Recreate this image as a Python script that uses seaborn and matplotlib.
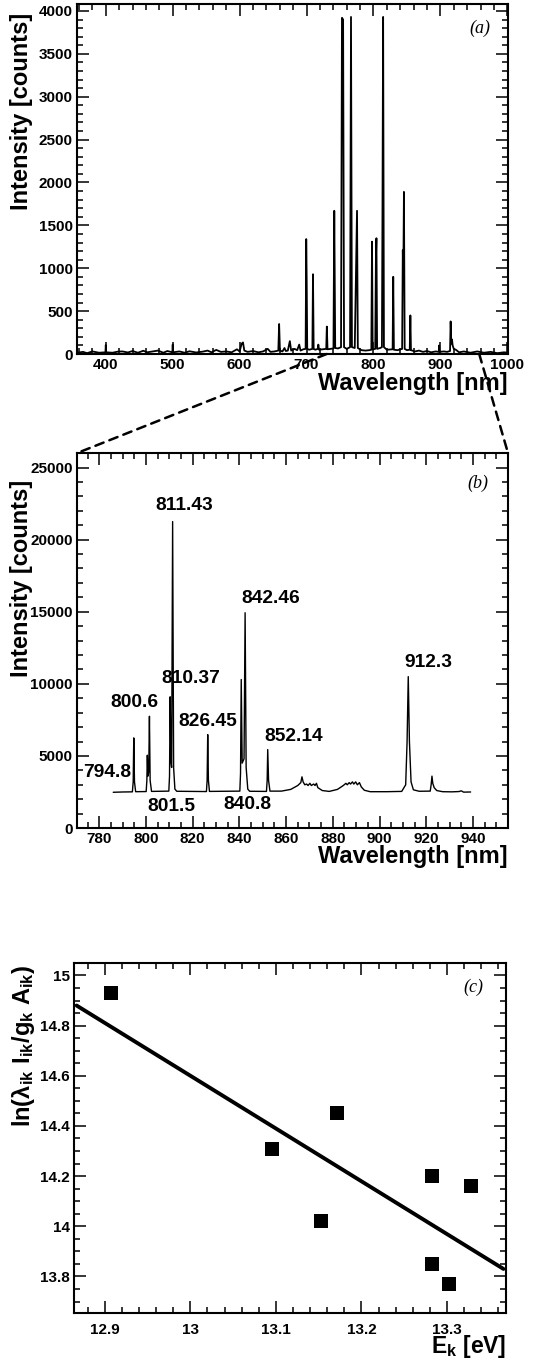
import matplotlib
matplotlib.use('Agg')
import matplotlib.pyplot as plt
from matplotlib.ticker import MultipleLocator, FormatStrFormatter
from matplotlib.patches import ConnectionPatch
import seaborn as sns

# Spectre complet (a) : sommets de la courbe
wl_a = [357, 366, 372, 380, 390, 399.5, 400, 400.5, 410, 418, 425, 433, 440, 448, 456, 462,
        470, 478, 486, 492, 499.5, 500, 500.5, 510, 518, 525, 535, 545, 552, 558, 565, 572,
        580, 588, 596, 600, 603, 605, 607, 612, 620, 628, 635, 642, 646, 652, 657.8, 659,
        660.2, 664, 667, 669, 672, 675, 677, 682, 686, 689, 691, 695, 698.6, 699.5, 700.2,
        701, 704, 708.7, 709.6, 710.6, 713, 716.8, 717.6, 718.6, 724, 729.4, 730.3, 731.3,
        736, 740.2, 741.4, 742.8, 747, 751.5, 752.9, 754.6, 756.0, 760, 765, 766.4, 767.8,
        772, 775.0, 775.4, 776.6, 782, 788, 794, 796.8, 797.8, 798.8, 802.6, 803.6, 804.4,
        805.4, 810, 812.6, 813.4, 814.4, 815.6, 820, 828.6, 829.5, 830.5, 836, 842.8, 843.8,
        844.6, 845.5, 846.6, 850, 854.2, 855.1, 856.0, 862, 868, 874, 880, 886, 893, 897.6,
        898.2, 898.8, 905, 910, 914.4, 915.3, 916.3, 917.3, 918.3, 920, 923, 928, 935, 945,
        955, 965, 975, 985, 995, 1001]
int_a = [15, 25, 10, 30, 15, 20, 105, 20, 15, 28, 30, 18, 35, 15, 38, 20,
         30, 40, 15, 35, 20, 110, 20, 30, 15, 32, 18, 28, 40, 20, 48, 25,
         30, 20, 55, 30, 120, 135, 40, 25, 35, 20, 30, 60, 25, 30, 40, 350,
         40, 30, 70, 35, 40, 150, 40, 60, 45, 110, 40, 55, 60, 1340, 850,
         60, 50, 60, 930, 60, 50, 60, 110, 50, 55, 60, 320, 55,
         60, 65, 1670, 70, 65, 80, 3920, 3900, 80, 60, 80, 3930, 80,
         70, 1500, 1670, 70, 45, 40, 45, 50, 1310, 55, 60, 1100, 1350,
         60, 70, 80, 1600, 3930, 80, 50, 55, 900, 50, 45, 60, 1210,
         900, 1890, 60, 45, 50, 450, 45, 30, 40, 25, 35, 20, 30, 25,
         100, 25, 30, 25, 35, 380, 120, 170, 100, 60, 50, 20, 30, 15,
         30, 15, 25, 10, 20, 15]

# Zoom 770-955 nm (b)
wl_b = [786, 790, 794.2, 794.55, 794.8, 795.1, 795.6, 800.1, 800.4, 800.6, 800.85, 801.2,
        801.5, 801.8, 802.4, 809.8, 810.1, 810.37, 810.7, 811.0, 811.43, 811.85, 812.4,
        813.2, 825.9, 826.2, 826.45, 826.75, 827.2, 840.2, 840.5, 840.8, 841.2, 842.0,
        842.46, 842.9, 843.6, 844.4, 851.6, 851.9, 852.14, 852.5, 853.1, 858, 862, 865,
        866.3, 866.8, 867.3, 868.0, 868.8, 869.4, 870.2, 870.8, 871.8, 872.4, 873.0, 873.6,
        875.5, 878.5, 882, 884.5, 885.6, 886.2, 887.0, 887.6, 888.4, 889.0, 889.8, 890.5,
        891.4, 892.2, 893.5, 896, 903, 909.5, 911.2, 911.8, 912.3, 912.8, 913.5, 914.5,
        917, 921.7, 922.1, 922.45, 922.8, 923.4, 924.5, 927, 931, 934, 935, 936, 939]
int_b = [2480, 2500, 2510, 3200, 6250, 3200, 2520, 2530, 3300, 5050, 3600, 3900,
         7750, 3300, 2540, 2560, 3600, 9100, 4600, 4200, 21250, 4200, 2700,
         2550, 2530, 3300, 6480, 3300, 2540, 2560, 3800, 10300, 4500, 4800,
         14930, 4200, 2700, 2550, 2540, 3300, 5440, 3300, 2560, 2560, 2680, 2950,
         3150, 3550, 3200, 3000, 3050, 2950, 3100, 2950, 3050, 2950, 3100, 2800,
         2600, 2540, 2680, 2950, 3100, 3000, 3150, 3050, 3200, 3050, 3200, 3000,
         3150, 2850, 2620, 2520, 2520, 2540, 3000, 6000, 10500, 6000, 3200, 2650,
         2550, 2560, 3000, 3600, 3100, 2800, 2600, 2520, 2510, 2530, 2580, 2490, 2500]

# Etiquettes des raies (b)
line_names = ['811.43', '842.46', '810.37', '800.6', '826.45', '852.14', '794.8',
              '801.5', '840.8', '912.3']
name_x = [816.5, 853.4, 819.4, 795.2, 826.45, 863.1, 783.5, 810.9, 843.4, 920.8]
name_y = [22340, 15930, 10370, 8730, 7400, 6370, 3820, 1500, 1620, 11500]

# Diagramme de Boltzmann (c)
e_k = [12.907, 13.095, 13.153, 13.172, 13.283, 13.283, 13.302, 13.328]
ln_val = [14.93, 14.31, 14.02, 14.45, 14.20, 13.85, 13.77, 14.16]
fit_x = [12.867, 13.366]
fit_y = [14.88, 13.83]

# bornes du zoom dans (a)
zoom_from = [730, 958]

sns.set_theme(style='ticks')
plt.rcParams['font.family'] = ['Liberation Sans', 'DejaVu Sans']
plt.rcParams['font.weight'] = 'bold'
plt.rcParams['axes.labelweight'] = 'bold'
plt.rcParams['mathtext.default'] = 'regular'
plt.rcParams['text.color'] = 'black'
plt.rcParams['axes.labelcolor'] = 'black'
plt.rcParams['xtick.color'] = 'black'
plt.rcParams['ytick.color'] = 'black'

fig = plt.figure(figsize=(5.47, 13.59), dpi=100)
ax_a = fig.add_axes([0.1408, 0.7395, 0.7879, 0.2575])
ax_b = fig.add_axes([0.1408, 0.3907, 0.7879, 0.2759])
ax_c = fig.add_axes([0.1353, 0.0338, 0.7898, 0.2575])


def style_axes(ax, xpad, ypad):
    ax.tick_params(which='both', direction='in', top=True, right=True, width=1.1,
                   labelsize=11, colors='black')
    ax.tick_params(which='major', length=8.5)
    ax.tick_params(which='minor', length=4.5)
    ax.tick_params(axis='x', pad=xpad)
    ax.tick_params(axis='y', pad=ypad)
    for s in ax.spines.values():
        s.set_linewidth(1.5)
        s.set_color('black')
    for lab in ax.get_xticklabels() + ax.get_yticklabels():
        lab.set_fontweight('bold')


# (a)
sns.lineplot(x=wl_a, y=int_a, ax=ax_a, color='black', linewidth=1.3, sort=False, estimator=None)
ax_a.set_xlim(357, 1001)
ax_a.set_ylim(0, 4080)
ax_a.xaxis.set_major_locator(MultipleLocator(100))
ax_a.xaxis.set_minor_locator(MultipleLocator(20))
ax_a.yaxis.set_major_locator(MultipleLocator(500))
ax_a.yaxis.set_minor_locator(MultipleLocator(100))
style_axes(ax_a, 3, 3)
ax_a.set_ylabel('Intensity [counts]', fontsize=17, loc='top')
ax_a.yaxis.set_label_coords(-0.103, 0.974)
ax_a.set_xlabel('Wavelength [nm]', fontsize=17, loc='right')
ax_a.xaxis.set_label_coords(1.0, -0.052)
ax_a.text(0.935, 0.93, '(a)', transform=ax_a.transAxes, ha='center', va='center',
          family='Liberation Serif', style='italic', fontweight='normal', fontsize=13)

# (b)
sns.lineplot(x=wl_b, y=int_b, ax=ax_b, color='black', linewidth=1.0, sort=False, estimator=None)
ax_b.set_xlim(770.5, 955)
ax_b.set_ylim(0, 26000)
ax_b.xaxis.set_major_locator(MultipleLocator(20))
ax_b.xaxis.set_minor_locator(MultipleLocator(5))
ax_b.yaxis.set_major_locator(MultipleLocator(5000))
ax_b.yaxis.set_minor_locator(MultipleLocator(1000))
style_axes(ax_b, 3, 3)
for name, x, y in zip(line_names, name_x, name_y):
    ax_b.text(x, y, name, ha='center', va='center', fontsize=13.8, fontweight='bold')
ax_b.set_ylabel('Intensity [counts]', fontsize=17, loc='top')
ax_b.yaxis.set_label_coords(-0.103, 0.928)
ax_b.set_xlabel('Wavelength [nm]', fontsize=17, loc='right')
ax_b.xaxis.set_label_coords(1.0, -0.045)
ax_b.text(0.93, 0.92, '(b)', transform=ax_b.transAxes, ha='center', va='center',
          family='Liberation Serif', style='italic', fontweight='normal', fontsize=13)

# (c)
sns.lineplot(x=fit_x, y=fit_y, ax=ax_c, color='black', linewidth=2.8, sort=False, estimator=None)
sns.scatterplot(x=e_k, y=ln_val, ax=ax_c, marker='s', s=92, color='black', linewidth=0, zorder=3)
ax_c.set_xlim(12.864, 13.369)
ax_c.set_ylim(13.654, 15.049)
ax_c.xaxis.set_major_locator(MultipleLocator(0.1))
ax_c.xaxis.set_minor_locator(MultipleLocator(0.02))
ax_c.yaxis.set_major_locator(MultipleLocator(0.2))
ax_c.yaxis.set_minor_locator(MultipleLocator(0.05))
ax_c.xaxis.set_major_formatter(FormatStrFormatter('%g'))
ax_c.yaxis.set_major_formatter(FormatStrFormatter('%g'))
style_axes(ax_c, 7, 3)
ax_c.set_ylabel(r'ln($\lambda_{ik}$ I$_{ik}$/g$_{k}$ A$_{ik}$)', fontsize=17, loc='top')
ax_c.yaxis.set_label_coords(-0.085, 0.995)
ax_c.set_xlabel(r'E$_{k}$ [eV]', fontsize=16.5, loc='right')
ax_c.xaxis.set_label_coords(1.0, -0.056)
ax_c.text(0.924, 0.93, '(c)', transform=ax_c.transAxes, ha='center', va='center',
          family='Liberation Serif', style='italic', fontweight='normal', fontsize=13)

# lignes pointillées reliant (a) et (b)
for xa, xb in zip(zoom_from, [0, 1]):
    con = ConnectionPatch(xyA=(xa, 0), coordsA=ax_a.transData, xyB=(xb, 1),
                          coordsB=ax_b.transAxes, linestyle=(0, (3.5, 2.5)),
                          linewidth=1.8, color='black')
    fig.add_artist(con)

fig.savefig('out.png', dpi=100)
